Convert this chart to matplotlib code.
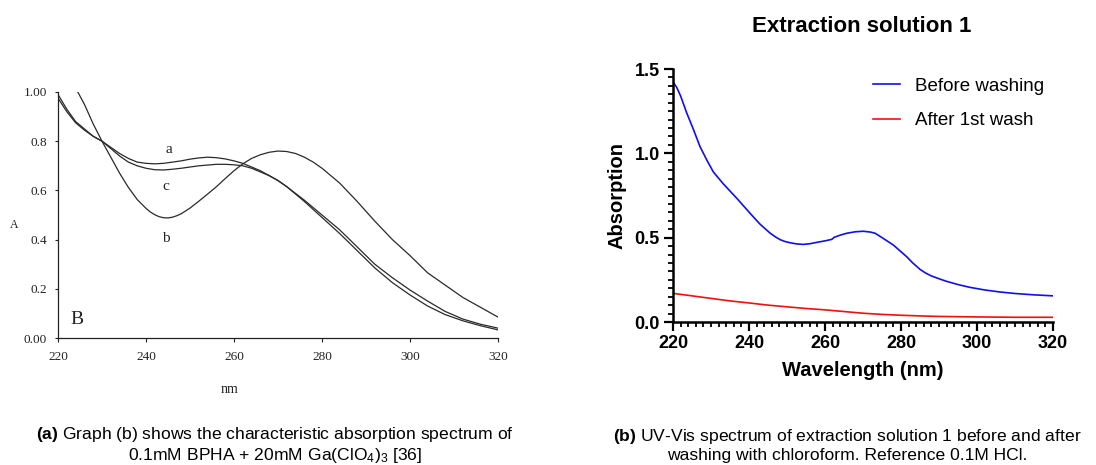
import matplotlib
matplotlib.use("Agg")
import matplotlib.pyplot as plt
from matplotlib.ticker import MultipleLocator

plt.rcParams["mathtext.fontset"] = "custom"
plt.rcParams["mathtext.rm"] = "Liberation Sans"
plt.rcParams["mathtext.bf"] = "Liberation Sans:bold"
plt.rcParams["mathtext.it"] = "Liberation Sans:italic"

# ---- panel (a): BPHA / Ga(ClO4)3 spectra ----
wl_a = [220, 222, 224, 226, 228, 230, 232, 234, 236, 238, 240, 242, 244, 246, 248,
        250, 252, 254, 256, 258, 260, 262, 264, 266, 268, 270, 272, 276, 280, 284,
        288, 292, 296, 300, 304, 308, 312, 316, 320]
abs_a = [0.99, 0.93, 0.88, 0.85, 0.82, 0.80, 0.775, 0.75, 0.73, 0.715, 0.71, 0.708,
         0.71, 0.715, 0.72, 0.727, 0.732, 0.735, 0.733, 0.728, 0.72, 0.71, 0.695,
         0.68, 0.66, 0.64, 0.615, 0.56, 0.50, 0.44, 0.37, 0.30, 0.245, 0.195, 0.15,
         0.108, 0.077, 0.056, 0.04]
wl_c = wl_a
abs_c = [0.975, 0.92, 0.875, 0.845, 0.82, 0.80, 0.77, 0.74, 0.715, 0.70, 0.69, 0.684,
         0.683, 0.686, 0.69, 0.695, 0.70, 0.703, 0.706, 0.706, 0.704, 0.70, 0.69,
         0.675, 0.66, 0.64, 0.615, 0.555, 0.49, 0.425, 0.355, 0.285, 0.225, 0.175,
         0.13, 0.095, 0.07, 0.05, 0.033]
wl_b = [224.5, 226, 228, 230, 232, 234, 236, 238, 240, 241, 242, 243, 244, 245, 246,
        247, 248, 250, 252, 254, 256, 258, 260, 262, 264, 266, 268, 270, 272, 274,
        276, 278, 280, 284, 288, 292, 296, 300, 304, 308, 312, 316, 320]
abs_b = [1.0, 0.95, 0.87, 0.80, 0.735, 0.67, 0.612, 0.563, 0.527, 0.512, 0.501,
         0.493, 0.489, 0.488, 0.491, 0.497, 0.505, 0.528, 0.556, 0.585, 0.615, 0.648,
         0.68, 0.708, 0.73, 0.745, 0.755, 0.76, 0.758, 0.75, 0.735, 0.715, 0.69,
         0.63, 0.555, 0.475, 0.40, 0.335, 0.265, 0.215, 0.165, 0.125, 0.085]
curve_names = ["a", "b", "c"]
xticks_a = [220, 240, 260, 280, 300, 320]
yticks_a = [0.0, 0.2, 0.4, 0.6, 0.8, 1.0]
ytick_labels_a = ["0.00", "0.2", "0.4", "0.6", "0.8", "1.00"]

# ---- panel (b): extraction solution 1 ----
wl_before = [220, 221, 222, 223.6, 225.4, 227.1, 228.9, 230.6, 233.2, 236.8, 240.3,
             242.9, 245.6, 247, 248.2, 249.5, 250.8, 252.5, 254.3, 256, 257.8, 260,
             261.8, 262.4, 264, 265.7, 268, 270.1, 272, 273.2, 275.3, 278, 281.5,
             283, 285, 286.5, 288, 290.3, 292, 295, 298, 302, 306, 310, 315, 320]
abs_before = [1.424, 1.39, 1.34, 1.24, 1.14, 1.04, 0.96, 0.89, 0.82, 0.733, 0.644,
              0.58, 0.526, 0.504, 0.488, 0.477, 0.47, 0.463, 0.46, 0.464, 0.472,
              0.481, 0.49, 0.502, 0.515, 0.526, 0.535, 0.538, 0.533, 0.526, 0.496,
              0.456, 0.387, 0.352, 0.312, 0.29, 0.273, 0.254, 0.241, 0.222, 0.206,
              0.19, 0.178, 0.169, 0.161, 0.155]
wl_after = [220, 225, 230, 235, 240, 245, 250, 255, 260, 265, 270, 275, 280, 285,
            290, 300, 310, 320]
abs_after = [0.17, 0.155, 0.14, 0.125, 0.113, 0.10, 0.09, 0.08, 0.072, 0.062, 0.052,
             0.045, 0.04, 0.036, 0.033, 0.03, 0.028, 0.028]
series_b = ["Before washing", "After 1st wash"]
xticks_b = [220, 240, 260, 280, 300, 320]
yticks_b = [0.0, 0.5, 1.0, 1.5]

W, H = 1096, 465
fig = plt.figure(figsize=(W / 100, H / 100), dpi=100)


def box(x0, y0, x1, y1):
    return [x0 / W, 1 - y1 / H, (x1 - x0) / W, (y1 - y0) / H]


# Panel (a)
serif = "Liberation Serif"
axa = fig.add_axes(box(58, 92, 498, 338))
line_kw = dict(color="#2a2a2a", lw=0.9)
axa.plot(wl_a, abs_a, **line_kw)
axa.plot(wl_b, abs_b, **line_kw)
axa.plot(wl_c, abs_c, **line_kw)
axa.set_xlim(220, 320)
axa.set_ylim(0, 1.0)
axa.set_xticks(xticks_a)
axa.set_yticks(yticks_a)
axa.set_yticklabels(ytick_labels_a)
for lbl in axa.get_xticklabels() + axa.get_yticklabels():
    lbl.set_family(serif)
    lbl.set_fontsize(9.5)
    lbl.set_color("#222")
axa.tick_params(axis="x", length=3, width=0.8, pad=6, color="#222")
axa.tick_params(axis="y", length=2, width=0.8, pad=6, color="#222")
for s in ["top", "right"]:
    axa.spines[s].set_visible(False)
for s in ["left", "bottom"]:
    axa.spines[s].set_linewidth(0.9)
    axa.spines[s].set_color("#222")
txt = dict(family=serif, color="#222", ha="center", va="center")
axa.text(245.1, 0.765, curve_names[0], fontsize=11, **txt)
axa.text(244.6, 0.405, curve_names[1], fontsize=11, **txt)
axa.text(244.5, 0.615, curve_names[2], fontsize=11, **txt)
axa.text(224.4, 0.075, "B", fontsize=14, **txt)
axa.text(-0.10, 0.46, "A", transform=axa.transAxes, fontsize=8.5, **txt)
axa.text(0.39, -0.21, "nm", transform=axa.transAxes, fontsize=10, **txt)

# Panel (b)
sans = "Liberation Sans"
axb = fig.add_axes(box(673, 69, 1053, 322))
axb.plot(wl_before, abs_before, color="#1010e8", lw=1.2, label=series_b[0])
axb.plot(wl_after, abs_after, color="#f01010", lw=1.2, label=series_b[1])
axb.set_xlim(220, 320)
axb.set_ylim(0, 1.5)
axb.set_xticks(xticks_b)
axb.set_yticks(yticks_b)
axb.xaxis.set_minor_locator(MultipleLocator(2))
axb.yaxis.set_minor_locator(MultipleLocator(0.05))
axb.set_yticklabels([f"{v:.1f}" for v in yticks_b])
for lbl in axb.get_xticklabels() + axb.get_yticklabels():
    lbl.set_family(sans)
    lbl.set_fontweight("bold")
    lbl.set_fontsize(13)
axb.tick_params(which="major", length=6.5, width=1.6, pad=3)
axb.tick_params(which="minor", length=3.5, width=1.3)
for s in ["top", "right"]:
    axb.spines[s].set_visible(False)
for s in ["left", "bottom"]:
    axb.spines[s].set_linewidth(1.8)
axb.set_xlabel("Wavelength (nm)", family=sans, fontweight="bold", fontsize=14.5, labelpad=6)
axb.set_ylabel("Absorption", family=sans, fontweight="bold", fontsize=14.5, labelpad=6)
leg = axb.legend(loc="upper left", bbox_to_anchor=(0.526, 0.966), frameon=False,
                 prop=dict(family=sans, size=13.5), handlelength=1.45,
                 handletextpad=0.8, labelspacing=0.92, borderpad=0, borderaxespad=0)
fig.text(862 / W, 1 - 26 / H, "Extraction solution 1", family=sans, fontweight="bold",
         fontsize=16, ha="center", va="center")

# Captions
cap_kw = dict(family=sans, fontsize=12.6, ha="center", va="center", linespacing=1.12)
fig.text(275 / W, 1 - 445 / H,
         r"$\mathbf{(a)}$ Graph (b) shows the characteristic absorption spectrum of" "\n"
         r"0.1mM BPHA + 20mM Ga(ClO$_4$)$_3$ [36]", **cap_kw)
fig.text(847 / W, 1 - 445 / H,
         r"$\mathbf{(b)}$ UV-Vis spectrum of extraction solution 1 before and after" "\n"
         "washing with chloroform. Reference 0.1M HCl.", **cap_kw)

fig.savefig("out.png", dpi=100)
